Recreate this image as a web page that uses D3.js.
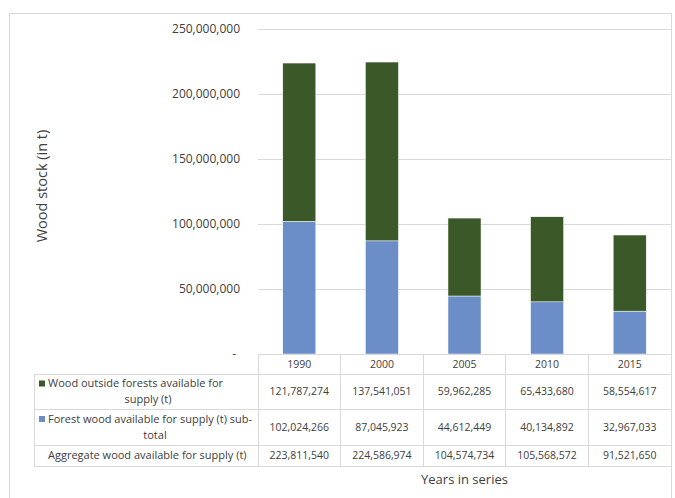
<!DOCTYPE html>
<html><head><meta charset="utf-8">
<script src="https://cdn.jsdelivr.net/npm/d3@7"></script>
<style>body{margin:0;background:#fff}svg{display:block}text{font-family:"Open Sans",sans-serif;fill:#404040}</style>
</head><body><svg id="c" width="675" height="498"></svg>
<script>
const years = ["1990","2000","2005","2010","2015"];
const outsideForest = [121787274,137541051,59962285,65433680,58554617];
const forestWood = [102024266,87045923,44612449,40134892,32967033];
const aggregate = [223811540,224586974,104574734,105568572,91521650];
const yTicks = [0,50000000,100000000,150000000,200000000,250000000];
const seriesNames = [
  ["Wood outside forests available for","supply (t)"],
  ["Forest wood available for supply (t) sub-","total"],
  ["Aggregate wood available for supply (t)"]
];
const colors = {outside:"#3b5829", forest:"#6b8dc8"};

const svg = d3.select("#c");
const L = 258, R = 671, T = 29, B = 354;
const x = d3.scaleBand().domain(years).range([L,R]).padding(0);
const y = d3.scaleLinear().domain([0,250000000]).range([B,T]);
const grid = "#d9d9d9";

svg.append("rect").attr("x",9.5).attr("y",13.5).attr("width",662).attr("height",520)
  .attr("fill","none").attr("stroke",grid);

svg.append("g").selectAll("line").data(yTicks.filter(d=>d>0)).join("line")
  .attr("x1",L).attr("x2",R).attr("y1",d=>Math.round(y(d))+0.5).attr("y2",d=>Math.round(y(d))+0.5)
  .attr("stroke",grid).attr("stroke-width",1);

const fmt = d3.format(",");
svg.append("g").selectAll("text").data(yTicks).join("text")
  .attr("x",d=>d===0?236:240).attr("y",d=>y(d)).attr("dy","0.35em")
  .attr("text-anchor","end").style("font-size","12px")
  .text(d=>d===0?"-":fmt(d));

svg.append("text").attr("transform","translate(42,186) rotate(-90)").attr("dy","0.35em")
  .attr("text-anchor","middle").style("font-size","14.5px").text("Wood stock (in t)");

const bw = x.bandwidth()*0.4;
const bars = svg.append("g");
years.forEach((yr,i)=>{
  const bx = x(yr)+(x.bandwidth()-bw)/2;
  bars.append("rect").attr("x",bx).attr("width",bw)
    .attr("y",y(forestWood[i])).attr("height",y(0)-y(forestWood[i]))
    .attr("fill",colors.forest).attr("stroke","#fff").attr("stroke-width",0.5);
  bars.append("rect").attr("x",bx).attr("width",bw)
    .attr("y",y(forestWood[i]+outsideForest[i])).attr("height",y(forestWood[i])-y(forestWood[i]+outsideForest[i]))
    .attr("fill",colors.outside).attr("stroke","#fff").attr("stroke-width",0.5);
});

const rowY = [354,374,409,445,466];
const TL = 34;
const tg = svg.append("g").attr("stroke",grid).attr("stroke-width",1).attr("shape-rendering","crispEdges");
tg.append("line").attr("x1",L).attr("x2",R).attr("y1",rowY[0]).attr("y2",rowY[0]);
rowY.slice(1).forEach(v=>tg.append("line").attr("x1",TL).attr("x2",R).attr("y1",v).attr("y2",v));
tg.append("line").attr("x1",TL).attr("x2",TL).attr("y1",rowY[1]).attr("y2",rowY[4]);
years.forEach(yr=>tg.append("line").attr("x1",x(yr)).attr("x2",x(yr)).attr("y1",rowY[0]).attr("y2",rowY[4]));
tg.append("line").attr("x1",R).attr("x2",R).attr("y1",rowY[0]).attr("y2",rowY[4]);

const fsNum = "10.5px", fsLeg = "11px";
svg.append("g").selectAll("text").data(years).join("text")
  .attr("x",d=>x(d)+x.bandwidth()/2).attr("y",(rowY[0]+rowY[1])/2).attr("dy","0.35em")
  .attr("text-anchor","middle").style("font-size",fsNum).text(d=>d);

const rows = [outsideForest, forestWood, aggregate];
rows.forEach((vals,r)=>{
  const cy = (rowY[r+1]+rowY[r+2])/2;
  svg.append("g").selectAll("text").data(vals).join("text")
    .attr("x",(d,i)=>x(years[i])+x.bandwidth()/2).attr("y",cy).attr("dy","0.35em")
    .attr("text-anchor","middle").style("font-size",fsNum).text(d=>fmt(d));
});

const lg = svg.append("g");
[[0,colors.outside],[1,colors.forest]].forEach(([r,c])=>{
  const cy = (rowY[r+1]+rowY[r+2])/2;
  lg.append("rect").attr("x",39).attr("y",cy-8-3).attr("width",6).attr("height",6).attr("fill",c);
  lg.append("text").attr("x",48).attr("y",cy-8).attr("dy","0.35em").style("font-size",fsLeg).text(seriesNames[r][0]);
  lg.append("text").attr("x",r===0?148:155).attr("y",cy+8).attr("dy","0.35em")
    .attr("text-anchor","middle").style("font-size",fsLeg).text(seriesNames[r][1]);
});
lg.append("text").attr("x",48).attr("y",(rowY[3]+rowY[4])/2).attr("dy","0.35em")
  .style("font-size",fsLeg).text(seriesNames[2][0]);

svg.append("text").attr("x",(L+R)/2).attr("y",479).attr("dy","0.35em")
  .attr("text-anchor","middle").style("font-size","13px").text("Years in series");
</script></body></html>
